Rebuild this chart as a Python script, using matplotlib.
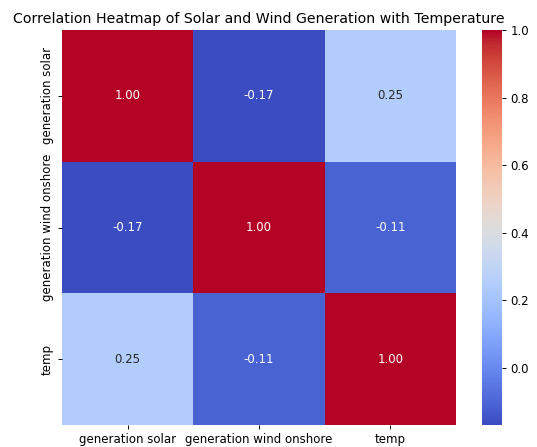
import numpy as np
import pandas as pd
import matplotlib
matplotlib.use('Agg')
import matplotlib.pyplot as plt
import seaborn as sns

# correlation values
labels = ['generation solar', 'generation wind onshore', 'temp']
row_solar = [1.00, -0.17, 0.25]
row_wind = [-0.17, 1.00, -0.11]
row_temp = [0.25, -0.11, 1.00]

corr = pd.DataFrame([row_solar, row_wind, row_temp], index=labels, columns=labels)

# reference looks rendered at a smaller scale, so use a lower dpi
DPI = 84.5
W, H = 537, 447
fig = plt.figure(figsize=(W / DPI, H / DPI), dpi=DPI)
ax = fig.add_axes([62 / W, (H - 425) / H, 394 / W, 395 / H])
cax = fig.add_axes([482 / W, (H - 425) / H, 20 / W, 395 / H])

sns.heatmap(corr, annot=True, fmt='.2f', cmap='coolwarm', ax=ax, cbar_ax=cax)
ax.set_title('Correlation Heatmap of Solar and Wind Generation with Temperature')
ax.set_xticklabels(labels, rotation=0)
ax.set_yticklabels(labels, rotation=90, va='center')

plt.savefig('out.png', dpi=DPI)
